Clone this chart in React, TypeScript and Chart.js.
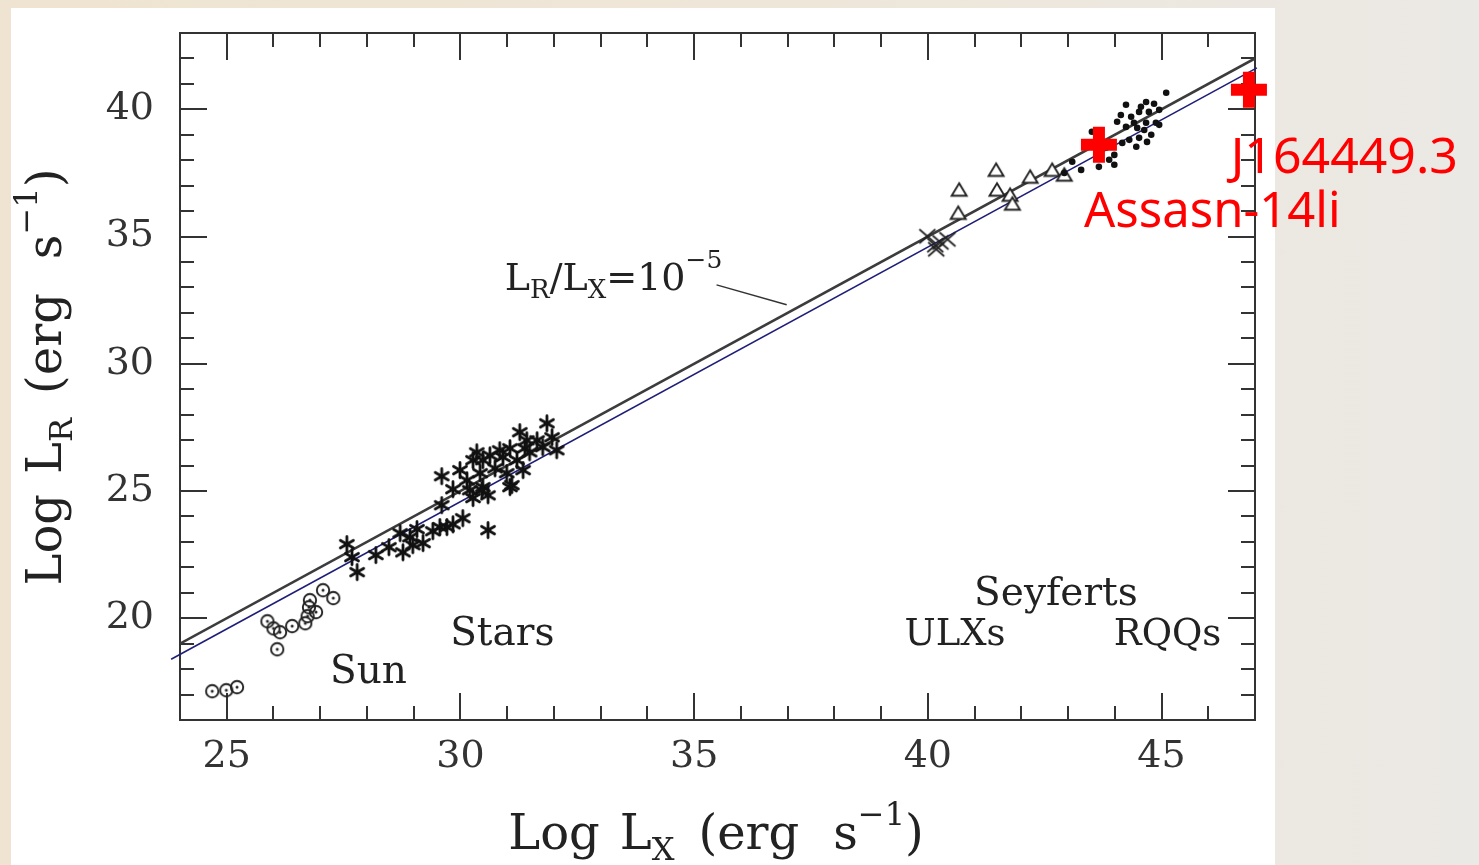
import React, { useEffect, useRef } from "react";
import { Chart, registerables } from "chart.js";

Chart.register(...registerables);

// ---------- axis setup ----------
const xRange = [24, 47];
const yRange = [16, 43];
const xTickLabels = [25, 30, 35, 40, 45];
const yTickLabels = [20, 25, 30, 35, 40];

// ---------- data (log L_X, log L_R) ----------
const sunX = [24.69, 24.99, 25.22, 25.87, 26.0, 26.14, 26.08, 26.4, 26.68, 26.73, 26.76, 26.78, 26.91, 27.06, 27.28];
const sunY = [17.13, 17.17, 17.29, 19.88, 19.6, 19.45, 18.78, 19.69, 19.8, 20.08, 20.43, 20.71, 20.24, 21.1, 20.79];

const starX = [27.57, 27.68, 27.79, 28.19, 28.47, 28.77, 28.71, 28.92, 29.07, 29.2,
  28.98, 29.41, 29.56, 29.71, 29.84, 30.05, 29.6, 30.59, 29.6, 29.84,
  29.99, 30.14, 30.27, 30.27, 30.42, 30.48, 30.59, 30.63, 30.74, 30.91,
  30.99, 31.06, 31.06, 31.21, 31.27, 31.34, 31.38, 31.48, 31.64, 31.76,
  31.85, 31.96, 32.06, 31.42, 30.84, 30.48, 30.35, 30.46, 30.2, 31.1];
const starY = [22.91, 22.4, 21.81, 22.48, 22.79, 22.59, 23.34, 23.18, 23.5, 22.95,
  22.87, 23.42, 23.58, 23.58, 23.69, 23.93, 24.44, 23.46, 25.58, 25.07,
  25.82, 25.42, 26.21, 24.72, 25.7, 25.15, 24.83, 26.4, 25.89, 26.33,
  25.7, 26.68, 25.15, 26.21, 27.31, 25.82, 26.68, 26.52, 26.99, 26.72,
  27.66, 27.11, 26.6, 26.99, 26.6, 26.21, 26.52, 25.03, 25.03, 25.23];

const ulxX = [39.99, 40.16, 40.27, 40.42, 40.18];
const ulxY = [35.01, 34.66, 34.77, 34.89, 34.5];

const seyfertX = [40.67, 40.65, 41.46, 41.48, 41.76, 41.81, 42.19, 42.66, 42.92];
const seyfertY = [36.82, 35.91, 37.6, 36.82, 36.62, 36.27, 37.33, 37.6, 37.41];

const rqqX = [45.1, 44.24, 44.56, 44.67, 44.84, 44.52, 44.73, 44.95, 44.13, 44.05,
  44.35, 44.41, 44.24, 44.48, 44.88, 44.67, 44.95, 44.78, 44.63, 44.31,
  44.52, 44.69, 44.46, 44.16, 43.51, 43.81, 43.99, 43.66, 43.99, 43.28,
  43.09, 42.92, 43.88, 43.62];
const rqqY = [40.65, 40.18, 40.1, 40.29, 40.22, 39.9, 39.9, 39.98, 39.78, 39.51,
  39.71, 39.47, 39.31, 39.27, 39.47, 39.47, 39.39, 39.0, 39.19, 38.8,
  38.88, 38.72, 38.53, 38.68, 39.12, 38.49, 38.21, 37.74, 37.82, 37.62,
  37.94, 37.5, 38.02, 38.61];

const sourceNames = ["Assasn-14li", "J164449.3"];
const sourceX = [43.66, 46.87];
const sourceY = [38.61, 40.77];

// L_R / L_X = 1e-5 relation and the blue fitted line
const ratioLineX = [24, 47];
const ratioLineY = [19, 42];
const fitLineX = [23.81, 47.04];
const fitLineY = [18.39, 41.63];

const toPts = (xs: number[], ys: number[]) => xs.map((x, i) => ({ x, y: ys[i] }));

function makeMarker(size: number, draw: (ctx: CanvasRenderingContext2D, c: number) => void) {
  const cv = document.createElement("canvas");
  cv.width = size;
  cv.height = size;
  const ctx = cv.getContext("2d")!;
  draw(ctx, size / 2);
  return cv;
}

type Seg = { t?: string; size?: number; dy?: number; gap?: number };

function richText(ctx: CanvasRenderingContext2D, segs: Seg[], family: string) {
  let w = 0;
  for (const s of segs) {
    if (s.gap) w += s.gap;
    if (s.t) {
      ctx.font = `${s.size}px ${family}`;
      w += ctx.measureText(s.t).width;
    }
  }
  return {
    width: w,
    draw: (x0: number, y0: number) => {
      let x = x0;
      for (const s of segs) {
        if (s.gap) x += s.gap;
        if (s.t) {
          ctx.font = `${s.size}px ${family}`;
          ctx.fillText(s.t, x, y0 + (s.dy || 0));
          x += ctx.measureText(s.t).width;
        }
      }
    },
  };
}

const SERIF = "'DejaVu Serif', serif";

export default function App() {
  const ref = useRef<HTMLCanvasElement>(null);

  useEffect(() => {
    const canvas = ref.current!;

    const sunMarker = makeMarker(18, (ctx, c) => {
      ctx.strokeStyle = "#222";
      ctx.lineWidth = 1.9;
      ctx.beginPath();
      ctx.arc(c, c, 6.2, 0, Math.PI * 2);
      ctx.stroke();
      ctx.fillStyle = "#222";
      ctx.beginPath();
      ctx.arc(c, c, 1.5, 0, Math.PI * 2);
      ctx.fill();
    });
    const starMarker = makeMarker(22, (ctx, c) => {
      ctx.strokeStyle = "#111";
      ctx.lineWidth = 2.8;
      ctx.lineCap = "round";
      for (let k = 0; k < 3; k++) {
        const a = Math.PI / 2 + (k * Math.PI) / 3;
        ctx.beginPath();
        ctx.moveTo(c + Math.cos(a) * 7.5, c + Math.sin(a) * 7.5);
        ctx.lineTo(c - Math.cos(a) * 7.5, c - Math.sin(a) * 7.5);
        ctx.stroke();
      }
      ctx.fillStyle = "#111";
      ctx.beginPath();
      ctx.arc(c, c, 2.5, 0, Math.PI * 2);
      ctx.fill();
    });
    const xMarker = makeMarker(22, (ctx, c) => {
      ctx.strokeStyle = "#222";
      ctx.lineWidth = 1.7;
      ctx.beginPath();
      ctx.moveTo(c - 8, c - 7);
      ctx.lineTo(c + 8, c + 7);
      ctx.moveTo(c + 8, c - 7);
      ctx.lineTo(c - 8, c + 7);
      ctx.stroke();
    });
    const triMarker = makeMarker(22, (ctx, c) => {
      ctx.strokeStyle = "#222";
      ctx.lineWidth = 1.9;
      ctx.fillStyle = "#fff";
      ctx.beginPath();
      ctx.moveTo(c, c - 7);
      ctx.lineTo(c + 7.5, c + 5.5);
      ctx.lineTo(c - 7.5, c + 5.5);
      ctx.closePath();
      ctx.fill();
      ctx.stroke();
    });
    const plusMarker = makeMarker(38, (ctx, c) => {
      ctx.fillStyle = "#ff0000";
      ctx.fillRect(c - 18, c - 6, 36, 12);
      ctx.fillRect(c - 6, c - 18, 12, 36);
    });

    const framePlugin = {
      id: "frame",
      beforeDatasetsDraw(chart: any) {
        const { ctx, chartArea: a, scales } = chart;
        const xs = scales.x, ys = scales.y;
        ctx.save();
        ctx.strokeStyle = "#333";
        ctx.lineWidth = 2;
        ctx.strokeRect(a.left, a.top, a.right - a.left, a.bottom - a.top);
        ctx.beginPath();
        for (let v = Math.ceil(xs.min); v <= xs.max; v++) {
          const p = Math.round(xs.getPixelForValue(v));
          const len = v % 5 === 0 ? 27 : 14;
          ctx.moveTo(p, a.bottom);
          ctx.lineTo(p, a.bottom - len);
          ctx.moveTo(p, a.top);
          ctx.lineTo(p, a.top + len);
        }
        for (let v = Math.ceil(ys.min); v <= ys.max; v++) {
          const p = Math.round(ys.getPixelForValue(v));
          const len = v % 5 === 0 ? 27 : 14;
          ctx.moveTo(a.left, p);
          ctx.lineTo(a.left + len, p);
          ctx.moveTo(a.right, p);
          ctx.lineTo(a.right - len, p);
        }
        ctx.stroke();
        ctx.restore();
      },
      afterDatasetsDraw(chart: any) {
        const { ctx, scales } = chart;
        const xs = scales.x, ys = scales.y;
        const X = (v: number) => xs.getPixelForValue(v);
        const Y = (v: number) => ys.getPixelForValue(v);
        ctx.save();
        ctx.fillStyle = "#222";
        ctx.textBaseline = "alphabetic";
        ctx.textAlign = "left";

        // group labels
        ctx.font = `39px ${SERIF}`;
        ctx.fillText("Sun", X(27.21), Y(17.45));
        ctx.fillText("Stars", X(29.78), Y(18.94));
        ctx.fillText("Seyferts", X(40.99), Y(20.51));
        ctx.font = `37px ${SERIF}`;
        ctx.fillText("ULXs", X(39.5), Y(18.94));
        ctx.fillText("RQQs", X(43.98), Y(18.94));

        // relation label
        const rel = richText(ctx, [
          { t: "L", size: 38 }, { t: "R", size: 26, dy: 8 }, { t: "/", size: 38 },
          { t: "L", size: 38 }, { t: "X", size: 26, dy: 8 }, { t: "=", size: 37 },
          { t: "10", size: 38 }, { t: "\u22125", size: 25, dy: -22 },
        ], SERIF);
        rel.draw(X(30.95), Y(32.91));
        ctx.strokeStyle = "#333";
        ctx.lineWidth = 1.5;
        ctx.beginPath();
        ctx.moveTo(X(35.48), Y(33.1));
        ctx.lineTo(X(36.98), Y(32.32));
        ctx.stroke();

        // axis titles
        const titleSegs = (sub: string): Seg[] => [
          { t: "Log", size: 48 }, { gap: 20 }, { t: "L", size: 48 }, { t: sub, size: 32, dy: 11 },
          { gap: 24 }, { t: "(erg", size: 48 }, { gap: 34 }, { t: "s", size: 48 },
          { t: "\u22121", size: 32, dy: -24 }, { t: ")", size: 48 },
        ];
        const xt = richText(ctx, titleSegs("X"), SERIF);
        xt.draw(716 - xt.width / 2, 849);

        const yt = richText(ctx, titleSegs("R"), SERIF);
        ctx.save();
        ctx.translate(61, 377);
        ctx.rotate(-Math.PI / 2);
        yt.draw(-yt.width / 2, 0);
        ctx.restore();

        // red source labels
        ctx.fillStyle = "#ff0000";
        ctx.font = "50px 'Noto Sans', sans-serif";
        ctx.fillText(sourceNames[1], X(46.48), Y(37.5));
        ctx.font = "49px 'Noto Sans', sans-serif";
        ctx.fillText(sourceNames[0], X(43.34), Y(35.38));
        ctx.restore();
      },
    };

    const chart = new Chart(canvas, {
      type: "scatter",
      data: {
        datasets: [
          {
            label: "sources",
            data: toPts(sourceX, sourceY),
            pointStyle: plusMarker as any,
            pointRadius: 5,
            clip: false as any,
          },
          { label: "RQQs", data: toPts(rqqX, rqqY), pointStyle: "circle", pointRadius: 3.3, backgroundColor: "#111", borderColor: "#111", borderWidth: 0 },
          { label: "Seyferts", data: toPts(seyfertX, seyfertY), pointStyle: triMarker as any, pointRadius: 5 },
          { label: "ULXs", data: toPts(ulxX, ulxY), pointStyle: xMarker as any, pointRadius: 5 },
          { label: "Stars", data: toPts(starX, starY), pointStyle: starMarker as any, pointRadius: 5 },
          { label: "Sun", data: toPts(sunX, sunY), pointStyle: sunMarker as any, pointRadius: 5 },
          {
            label: "LR/LX=1e-5",
            data: toPts(ratioLineX, ratioLineY),
            showLine: true,
            borderColor: "#3c3c3c",
            borderWidth: 2.6,
            pointRadius: 0,
          },
          {
            label: "fit",
            data: toPts(fitLineX, fitLineY),
            showLine: true,
            borderColor: "#1e1e78",
            borderWidth: 1.6,
            pointRadius: 0,
            clip: false as any,
          },
        ],
      },
      options: {
        responsive: false,
        animation: false,
        devicePixelRatio: 1,
        layout: { padding: { left: 0, top: 33, right: 224, bottom: 0 } },
        plugins: { legend: { display: false }, tooltip: { enabled: false } },
        scales: {
          x: {
            type: "linear",
            min: xRange[0],
            max: xRange[1],
            grid: { display: false, drawTicks: false },
            border: { display: false },
            ticks: { padding: 14, color: "#333", font: { family: SERIF, size: 38 } },
            afterBuildTicks: (s: any) => { s.ticks = xTickLabels.map((v) => ({ value: v })); },
            afterFit: (s: any) => { s.height = 145; s.paddingLeft = 0; s.paddingRight = 0; },
          },
          y: {
            type: "linear",
            min: yRange[0],
            max: yRange[1],
            grid: { display: false, drawTicks: false },
            border: { display: false },
            ticks: { padding: 26, color: "#333", font: { family: SERIF, size: 38 } },
            afterBuildTicks: (s: any) => { s.ticks = yTickLabels.map((v) => ({ value: v })); },
            afterFit: (s: any) => { s.width = 180; s.paddingTop = 0; s.paddingBottom = 0; },
          },
        },
      } as any,
      plugins: [framePlugin],
    });
    return () => chart.destroy();
  }, []);

  return (
    <div
      style={{
        position: "fixed",
        left: 0,
        top: 0,
        width: 1479,
        height: 865,
        overflow: "hidden",
        background: "linear-gradient(90deg, #efe4d1 0%, #eee6d9 55%, #ebe9e5 100%)",
      }}
    >
      <div style={{ position: "absolute", left: 11, top: 8, width: 1264, height: 857, background: "#ffffff" }} />
      <canvas ref={ref} width={1479} height={865} style={{ position: "absolute", left: 0, top: 0 }} />
    </div>
  );
}
